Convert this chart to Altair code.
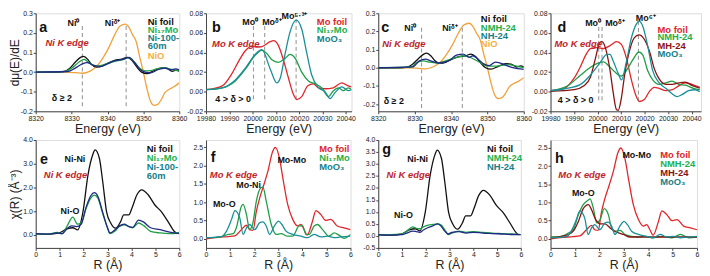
import altair as alt
import pandas as pd

FONT = "Liberation Sans"

# ---------------- data: Ni K-edge XANES derivative (panels a, c) ----------------
ni_foil_xan_e = [8320, 8326, 8328, 8329.5, 8331, 8332.5, 8333.3, 8334.5, 8335.5, 8337, 8338.5, 8340, 8342, 8344,
                 8345.5, 8346.8, 8348, 8349.5, 8351, 8353, 8355, 8356.5, 8358, 8359.2, 8360]
ni_foil_xan = [0, 0, 0.004, 0.02, 0.05, 0.075, 0.08, 0.065, 0.04, 0.025, 0.03, 0.045, 0.06, 0.066,
               0.075, 0.06, 0.03, 0.0, -0.008, 0.008, 0.022, 0.02, 0.004, 0.01, 0.004]
nio_xan_e = [8320, 8328, 8331, 8333, 8334.5, 8336, 8337.5, 8339, 8340.5, 8342, 8343.5, 8345, 8346, 8347,
             8348, 8349, 8350, 8351, 8352, 8353, 8354, 8355, 8356, 8357, 8358.5, 8360]
nio_xan = [0, 0, -0.003, -0.006, 0, 0.015, 0.04, 0.08, 0.13, 0.19, 0.235, 0.245, 0.228, 0.19,
           0.155, 0.075, 0.0, -0.085, -0.15, -0.17, -0.165, -0.14, -0.105, -0.09, -0.075, -0.055]
ni17mo_xan_e = [8320, 8328, 8330, 8332, 8333.5, 8335, 8337, 8339, 8341, 8343, 8345, 8346, 8347.5, 8349,
                8350.5, 8352, 8354, 8356, 8358, 8360]
ni17mo_xan = [0, 0.003, 0.02, 0.05, 0.065, 0.045, 0.03, 0.038, 0.05, 0.058, 0.068, 0.074, 0.05, 0.02,
              0.006, 0.008, 0.018, 0.022, 0.012, 0.005]
ni100_xan_e = [8320, 8329, 8331, 8333, 8334.3, 8336, 8338, 8340, 8342, 8344, 8346, 8347.5, 8349, 8350.5,
               8352, 8354, 8356, 8357.5, 8359, 8360]
ni100_xan = [0, 0.003, 0.02, 0.042, 0.048, 0.035, 0.028, 0.042, 0.058, 0.064, 0.075, 0.05, 0.015, 0.0,
             -0.004, 0.012, 0.02, 0.012, 0.016, 0.012]
nmh_ni_xan_e = [8320, 8329, 8330.4, 8332.4, 8334, 8336, 8339.3, 8342, 8343.7, 8345.5, 8348.2, 8350, 8352.6,
                8355.3, 8358, 8360]
nmh_ni_xan = [0, 0.004, 0.026, 0.038, 0.031, 0.026, 0.043, 0.06, 0.066, 0.055, 0.026, 0.009, 0.009,
              0.017, 0.009, 0.0]
nh_xan_e = [8320, 8329.5, 8331.3, 8333, 8334.4, 8336.6, 8339.3, 8341.5, 8343.3, 8345, 8346, 8347.7, 8349,
            8350.5, 8352.2, 8353.5, 8355.3, 8357, 8360]
nh_xan = [0, 0.005, 0.038, 0.048, 0.038, 0.026, 0.038, 0.069, 0.075, 0.057, 0.066, 0.043, 0.021,
          0.012, 0.031, 0.026, 0.012, 0.0, -0.009]

# ---------------- data: Mo K-edge XANES derivative (panel b) ----------------
mo_foil_b_e = [19980, 19987, 19991, 19994, 19997, 19999.7, 20001.9, 20004, 20007.6, 20009, 20010.9, 20013.3,
               20015.4, 20017.6, 20019, 20021.1, 20023.7, 20026.1, 20028.3, 20031.1, 20034.7, 20038.3, 20041.1, 20042.5]
mo_foil_b = [0.002, 0.006, 0.018, 0.031, 0.042, 0.0465, 0.0455, 0.046, 0.051, 0.052, 0.048, 0.032,
             0.014, -0.003, -0.008, -0.005, 0.006, 0.008, 0.004, 0.003, 0.004, 0.009, 0.006, 0.005]
ni17mo_b_e = [19980, 19987, 19992.6, 19996.9, 20001.1, 20004, 20006.1, 20008.3, 20011.1, 20014, 20016.1,
              20018.3, 20021.1, 20024, 20026.9, 20029.7, 20032.6, 20034.7, 20036.9, 20039, 20041.1, 20042.5]
ni17mo_b = [0.002, 0.004, 0.011, 0.023, 0.037, 0.0425, 0.039, 0.0325, 0.030, 0.034, 0.038,
            0.034, 0.02, 0.011, 0.008, 0.004, -0.005, 0.001, 0.004, 0.001, 0.004, 0.002]
moo3_b_e = [19980, 19987, 19992.6, 19996.9, 20001.1, 20004, 20007.6, 20010.4, 20011.9, 20014, 20016.1,
            20018.7, 20021.1, 20023.3, 20025.4, 20028.3, 20031.1, 20033.3, 20035.4, 20038.3, 20041.1, 20042.5]
moo3_b = [0.002, 0.004, 0.012, 0.024, 0.038, 0.043, 0.023, 0.009, 0.014, 0.039, 0.061,
          0.073, 0.064, 0.039, 0.017, 0.004, 0.0, -0.007, -0.001, 0.005, 0.001, 0.002]

# ---------------- data: Mo K-edge XANES derivative (panel d) ----------------
mo_foil_d_e = [19980, 19985.9, 19990.1, 19992.8, 19994.9, 19997, 19999.8, 20002.6, 20005.3, 20008.1, 20010.2,
               20012.3, 20014.4, 20016.5, 20017.8, 20019.9, 20022, 20024.1, 20026.2, 20029, 20031.8, 20034.5,
               20037.3, 20040.1, 20043.5]
mo_foil_d = [0.001, 0.0035, 0.014, 0.026, 0.037, 0.044, 0.045, 0.044, 0.047, 0.051, 0.048,
             0.034, 0.012, -0.005, -0.01, -0.008, 0.0, 0.0045, 0.0035, 0.001, 0.002, 0.006,
             0.009, 0.0075, 0.0045]
mh_d_e = [19980, 19990.1, 19994.2, 19997, 19999.1, 20000.9, 20001.9, 20003.3, 20005.3, 20006.6, 20008,
          20008.8, 20010.1, 20011.5, 20013.5, 20015.6, 20017.6, 20020, 20022.1, 20024.2, 20026.2, 20029,
          20031.7, 20034.5, 20037.3, 20040.1, 20043.5]
mh_d = [0.0003, 0.002, 0.006, 0.015, 0.034, 0.05, 0.051, 0.045, 0.022, 0.0, -0.018,
        -0.019, -0.007, 0.017, 0.041, 0.055, 0.058, 0.053, 0.041, 0.023, 0.013, 0.0075,
        0.0075, 0.009, 0.0098, 0.0065, 0.0035]
moo3_d_e = [19980, 19986, 19992.8, 19997, 20001.2, 20004, 20005.3, 20006.7, 20008.8, 20010.2, 20012.3,
            20014.4, 20016.5, 20017.6, 20019.2, 20021.3, 20023.4, 20026.2, 20029, 20031.7, 20033.8,
            20035.9, 20038.7, 20041.5, 20043.5]
moo3_d = [0.001, 0.003, 0.0075, 0.017, 0.03, 0.038, 0.038, 0.031, 0.0185, 0.012, 0.031,
          0.055, 0.069, 0.072, 0.067, 0.047, 0.022, 0.009, 0.0035, -0.002, -0.005,
          -0.003, 0.001, 0.002, 0.0]
nmh_mo_d_e = [19980, 19987.3, 19992.8, 19997, 20000.5, 20002.6, 20004.7, 20007.4, 20010.2, 20012.3, 20015.1,
              20017.6, 20019.2, 20021.3, 20023.4, 20026.2, 20029, 20031.7, 20034.5, 20037.3, 20040.8, 20043.5]
nmh_mo_d = [0.001, 0.006, 0.017, 0.025, 0.0295, 0.0305, 0.0265, 0.02, 0.016, 0.0217, 0.033,
            0.0405, 0.0375, 0.0217, 0.0123, 0.0075, 0.009, 0.0107, 0.0075, 0.0066, 0.0035, 0.002]

# ---------------- data: Ni K-edge EXAFS (panels e, g) ----------------
ni_foil_r = [0, 0.5, 0.95, 1.3, 1.55, 1.75, 1.98, 2.18, 2.39, 2.48, 2.66, 2.8, 2.96, 3.14, 3.34, 3.55,
             3.68, 3.89, 4.02, 4.23, 4.43, 4.7, 4.98, 5.25, 5.53, 5.8, 5.9]
ni_foil_ft = [0.04, 0.03, 0.07, 0.25, 0.3, 0.21, 1.0, 2.5, 3.4, 3.58, 3.23, 2.25, 0.98, 0.49, 0.28, 0.56,
              0.84, 0.84, 1.12, 1.69, 1.9, 1.69, 1.26, 0.98, 0.56, 0.14, 0.05]
ni17mo_ni_r = [0, 0.5, 0.9, 1.1, 1.3, 1.55, 1.75, 1.9, 2.1, 2.3, 2.45, 2.6, 2.8, 3.0, 3.1, 3.3, 3.5, 3.7,
               3.9, 4.05, 4.3, 4.5, 4.8, 5.2, 5.6, 6.0]
ni17mo_ni_ft = [0.05, 0.03, 0.1, 0.05, 0.35, 0.75, 0.45, 0.5, 1.1, 1.55, 1.68, 1.55, 0.9, 0.3, 0.05, 0.15,
                0.35, 0.42, 0.35, 0.3, 0.5, 0.4, 0.15, 0.08, 0.05, 0.1]
ni100_r = [0, 0.5, 0.9, 1.1, 1.3, 1.5, 1.7, 1.9, 2.1, 2.3, 2.45, 2.6, 2.8, 3.0, 3.1, 3.3, 3.5, 3.7,
           3.9, 4.05, 4.3, 4.5, 4.8, 5.2, 5.6, 6.0]
ni100_ft = [0.05, 0.03, 0.08, 0.05, 0.25, 0.38, 0.35, 0.45, 1.15, 1.65, 1.78, 1.62, 0.95, 0.3, 0.08, 0.2,
            0.38, 0.45, 0.35, 0.32, 0.62, 0.55, 0.3, 0.22, 0.12, 0.05]
nmh_ni_r = [0, 0.5, 1.0, 1.2, 1.45, 1.6, 1.75, 1.9, 2.1, 2.3, 2.5, 2.65, 2.8, 2.95, 3.1, 3.4, 3.7, 4.0,
            4.4, 4.8, 5.2, 5.6, 6.0]
nmh_ni_ft = [0.05, 0.05, 0.08, 0.2, 0.38, 0.32, 0.3, 0.38, 0.45, 0.48, 0.5, 0.45, 0.25, 0.05, 0.12, 0.2,
             0.15, 0.18, 0.15, 0.12, 0.1, 0.08, 0.05]
nh_r = [0, 0.5, 1.0, 1.2, 1.45, 1.6, 1.75, 1.9, 2.1, 2.3, 2.5, 2.65, 2.8, 2.95, 3.1, 3.4, 3.7, 4.0,
        4.4, 4.8, 5.2, 5.6, 6.0]
nh_ft = [0.05, 0.03, 0.05, 0.12, 0.2, 0.18, 0.15, 0.25, 0.35, 0.42, 0.5, 0.4, 0.2, 0.08, 0.15, 0.18,
         0.12, 0.15, 0.12, 0.1, 0.08, 0.06, 0.05]

# ---------------- data: Mo K-edge EXAFS (panels f, h) ----------------
mo_foil_r = [0, 0.5, 0.92, 1.2, 1.47, 1.68, 1.81, 1.95, 2.09, 2.23, 2.36, 2.57, 2.77, 2.88, 3.05, 3.19,
             3.39, 3.6, 3.8, 3.94, 4.07, 4.2, 4.42, 4.56, 4.77, 4.97, 5.18, 5.45, 5.73, 6.0]
mo_foil_ft = [0.0, 0.04, 0.06, 0.08, 0.25, 0.37, 0.25, 0.23, 0.75, 1.12, 1.39, 1.85, 2.39, 2.5, 2.2, 1.66,
              0.94, 0.53, 0.35, 0.39, 0.25, 0.1, 0.48, 0.77, 0.66, 0.5, 0.53, 0.35, 0.3, 0.25]
ni17mo_mo_r = [0, 0.65, 0.92, 1.13, 1.26, 1.47, 1.54, 1.68, 1.81, 1.95, 2.09, 2.27, 2.36, 2.5, 2.71, 2.91,
               3.12, 3.39, 3.6, 3.87, 4.01, 4.15, 4.29, 4.49, 4.63, 4.84, 5.11, 5.32, 5.52, 5.73, 6.0]
ni17mo_mo_ft = [0.03, 0.06, 0.12, 0.14, 0.3, 0.89, 0.94, 0.66, 0.25, 0.44, 1.03, 1.39, 1.41, 1.03, 0.39, 0.12,
                0.14, 0.07, 0.07, 0.35, 0.35, 0.12, 0.12, 0.35, 0.39, 0.25, 0.07, 0.16, 0.1, 0.01, 0.12]
moo3_r = [0, 0.65, 0.85, 1.06, 1.2, 1.4, 1.54, 1.68, 1.81, 2.02, 2.23, 2.36, 2.5, 2.64, 2.84, 3.01, 3.15,
          3.32, 3.6, 3.94, 4.22, 4.49, 4.77, 5.04, 5.32, 5.6, 6.0]
moo3_ft = [0.03, 0.06, 0.21, 0.53, 0.77, 0.57, 0.12, 0.3, 0.39, 0.25, 0.44, 0.46, 0.35, 0.12, 0.35, 0.48, 0.39,
           0.21, 0.12, 0.07, 0.03, 0.12, 0.05, 0.07, 0.03, 0.05, 0.07]
nmh_mo_r = [0, 0.45, 0.73, 0.93, 1.14, 1.34, 1.55, 1.62, 1.75, 1.89, 2.03, 2.2, 2.37, 2.5, 2.67, 2.85, 3.05,
            3.33, 3.6, 3.88, 4.15, 4.56, 4.97, 5.32, 5.66, 6.0]
nmh_mo_ft = [0.05, 0.07, 0.16, 0.25, 0.66, 0.94, 1.07, 1.1, 0.85, 0.44, 0.53, 0.83, 0.66, 0.3, 0.21, 0.23, 0.12,
             0.07, 0.05, 0.07, 0.03, 0.07, 0.03, 0.12, 0.03, 0.05]
mh_r = [0, 0.45, 0.73, 0.93, 1.14, 1.34, 1.55, 1.68, 1.82, 2.03, 2.23, 2.44, 2.62, 2.81, 2.99, 3.26, 3.6,
        4.29, 4.97, 5.66, 6.0]
mh_ft = [0.03, 0.07, 0.12, 0.21, 0.48, 0.83, 0.94, 0.8, 0.57, 0.41, 0.41, 0.3, 0.21, 0.16, 0.12, 0.05, 0.05,
         0.05, 0.05, 0.05, 0.05]

# ---------------- colours ----------------
BLACK = "#111111"
GREEN = "#1f9e45"
NAVY = "#1f2a86"
TEAL = "#1a8f98"
RED = "#e0262a"
DRED = "#8a1212"
ORANGE = "#f0a23a"
T_GREEN = "#22b04b"
T_TEAL = "#17808a"
T_ORANGE = "#f5b040"
KEDGE = "#c0242a"

LABEL_SIZE = 7
HYPHEN = "replace(datum.label, '\u2212', '-')"


def scale(dom):
    return alt.Scale(domain=dom, nice=False, zero=False)


def build_panel(curves, xdom, ydom, xticks, yticks, xfmt, yfmt, xtitle, ytitle, w, h,
                rules, letter, legend, kedge, peaks, note):
    xs, ys = scale(xdom), scale(ydom)
    xax = alt.Axis(values=xticks, format=xfmt, title=xtitle, grid=False, labelFontSize=LABEL_SIZE,
                   labelOverlap=False, labelFlush=False,
                   titleFontSize=12.5, titleFontWeight="normal", tickSize=2.5, labelPadding=0.5, titlePadding=1,
                   labelFont=FONT, titleFont=FONT, domainColor="#444", tickColor="#444", labelColor="#222",
                   titleColor="#222")
    yax_kw = dict(values=yticks, format=yfmt, grid=False, labelFontSize=LABEL_SIZE, tickSize=2.5, labelPadding=1,
                  labelOverlap=False, labelFlush=False, labelExpr=HYPHEN,
                  labelFont=FONT, domainColor="#444", tickColor="#444", labelColor="#222")
    if ytitle:
        yax = alt.Axis(title=ytitle, titleFontSize=12, titleFontWeight="normal", titleFont=FONT,
                       titleColor="#222", titleX=-14, titleY=h / 2, **yax_kw)
    else:
        yax = alt.Axis(title=None, **yax_kw)
    X = lambda: alt.X("x:Q", scale=xs, axis=xax)
    Y = lambda: alt.Y("y:Q", scale=ys, axis=yax)

    rows = []
    for name, cx, cy, col in curves:
        for a, b in zip(cx, cy):
            rows.append({"s": name, "x": a, "y": b, "c": col})
    lines = alt.Chart(pd.DataFrame(rows)).mark_line(interpolate="monotone", strokeWidth=1.3, clip=True).encode(
        x=X(), y=Y(), detail="s:N", color=alt.Color("c:N", scale=None))

    layers = []
    if rules:
        rdf = pd.DataFrame(rules, columns=["x", "y", "y2"])
        layers.append(alt.Chart(rdf).mark_rule(strokeDash=[4, 3], color="#9a9a9a", strokeWidth=1.1).encode(
            x=X(), y=Y(), y2="y2:Q"))
    layers.append(lines)

    def txt(items, size, style="normal", align="left", weight="bold"):
        df = pd.DataFrame(items, columns=["x", "y", "t", "c"])
        return alt.Chart(df).mark_text(font=FONT, fontSize=size, fontWeight=weight, fontStyle=style,
                                       align=align, baseline="middle").encode(
            x=X(), y=Y(), text="t:N", color=alt.Color("c:N", scale=None))

    layers.append(txt([letter], 14.5))
    layers.append(txt(legend, 9.5))
    layers.append(txt([kedge], 9.5, style="italic"))
    if peaks:
        layers.append(txt(peaks, 9, align="center"))
    if note:
        layers.append(txt([note], 9))
    return alt.layer(*layers).properties(width=w, height=h)


ni_xdom = [8320, 8360]
ni_xt = [8320, 8330, 8340, 8350, 8360]
mo_xt = [19980, 19990, 20000, 20010, 20020, 20030, 20040]
r_xt = [0, 1, 2, 3, 4, 5, 6]
H1, H2 = 99, 109

pa = build_panel(
    [("NiO", nio_xan_e, nio_xan, ORANGE), ("Ni foil", ni_foil_xan_e, ni_foil_xan, BLACK),
     ("Ni17Mo", ni17mo_xan_e, ni17mo_xan, GREEN), ("Ni-100-60m", ni100_xan_e, ni100_xan, NAVY)],
    ni_xdom, [-0.2, 0.3], ni_xt, [-0.2, -0.1, 0.0, 0.1, 0.2, 0.3], "d", ".1f", "Energy (eV)", "dμ(E)/dE",
    145, H1,
    [(8333.0, 0.235, -0.19), (8345.2, 0.235, -0.19)],
    (8321.0, 0.225, "a", BLACK),
    [(8351.2, 0.256, "Ni foil", BLACK), (8351.2, 0.214, "Ni₁₇Mo", T_GREEN), (8351.2, 0.173, "Ni-100-", T_TEAL),
     (8351.2, 0.131, "60m", T_TEAL), (8351.2, 0.081, "NiO", T_ORANGE)],
    (8322.7, 0.147, "Ni K edge", KEDGE),
    [(8330.5, 0.252, "Ni⁰", BLACK), (8341.4, 0.252, "Niᵟ⁺", BLACK)],
    (8324.5, -0.134, "δ ≥ 2", BLACK))

pb = build_panel(
    [("Mo foil", mo_foil_b_e, mo_foil_b, RED), ("Ni17Mo", ni17mo_b_e, ni17mo_b, GREEN),
     ("MoO3", moo3_b_e, moo3_b, TEAL)],
    [19980, 20042.5], [-0.02, 0.08], mo_xt, [-0.02, 0.0, 0.02, 0.04, 0.06, 0.08], "d", ".2f", "Energy (eV)", None,
    147, H1,
    [(20000.4, 0.067, -0.009), (20005.2, 0.067, -0.009), (20018.7, 0.074, -0.009)],
    (19982.6, 0.065, "b", BLACK),
    [(20027.6, 0.0713, "Mo foil", RED), (20027.6, 0.0626, "Ni₁₇Mo", T_GREEN), (20027.6, 0.0542, "MoO₃", T_TEAL)],
    (19982.6, 0.0486, "Mo K edge", KEDGE),
    [(19999.0, 0.0713, "Mo⁰", BLACK), (20008.3, 0.0713, "Moᵟ⁺", BLACK), (20018.0, 0.0772, "Mo⁵·³⁺", BLACK)],
    (19984.0, -0.0075, "4 > δ > 0", BLACK))

pc = build_panel(
    [("NiO", nio_xan_e, nio_xan, ORANGE), ("Ni foil", ni_foil_xan_e, ni_foil_xan, BLACK),
     ("NMH-24", nmh_ni_xan_e, nmh_ni_xan, GREEN), ("NH-24", nh_xan_e, nh_xan, NAVY)],
    ni_xdom, [-0.24, 0.3], ni_xt, [-0.2, -0.1, 0.0, 0.1, 0.2, 0.3], "d", ".1f", "Energy (eV)", None,
    147, H1,
    [(8331.9, 0.22, -0.23), (8343.1, 0.22, -0.23)],
    (8320.8, 0.216, "c", BLACK),
    [(8348.2, 0.268, "Ni foil", BLACK), (8348.2, 0.221, "NMH-24", T_GREEN), (8348.2, 0.176, "NH-24", T_TEAL),
     (8348.2, 0.13, "NiO", T_ORANGE)],
    (8321.1, 0.13, "Ni K edge", KEDGE),
    [(8328.8, 0.221, "Ni⁰", BLACK), (8339.7, 0.221, "Niᵟ⁺", BLACK)],
    (8321.5, -0.182, "δ ≥ 2", BLACK))

pd_ = build_panel(
    [("Mo foil", mo_foil_d_e, mo_foil_d, RED), ("NMH-24", nmh_mo_d_e, nmh_mo_d, GREEN),
     ("MH-24", mh_d_e, mh_d, DRED), ("MoO3", moo3_d_e, moo3_d, TEAL)],
    [19980, 20044], [-0.02, 0.08], mo_xt, [-0.02, 0.0, 0.02, 0.04, 0.06, 0.08], "d", ".2f", "Energy (eV)", None,
    152, H1,
    [(20000.5, 0.066, -0.01), (20001.9, 0.066, -0.01), (20017.4, 0.072, -0.01)],
    (19983.0, 0.065, "d", BLACK),
    [(20025.5, 0.063, "Mo foil", RED), (20025.5, 0.0553, "NMH-24", T_GREEN), (20025.5, 0.0469, "MH-24", DRED),
     (20025.5, 0.038, "MoO₃", T_TEAL)],
    (19981.7, 0.0484, "Mo K edge", KEDGE),
    [(19998.1, 0.0704, "Mo⁰", BLACK), (20007.4, 0.0704, "Moᵟ⁺", BLACK), (20020.5, 0.0752, "Mo⁶⁺", BLACK)],
    (19983.1, -0.009, "4 > δ > 0", BLACK))

pe = build_panel(
    [("Ni foil", ni_foil_r, ni_foil_ft, BLACK), ("Ni17Mo", ni17mo_ni_r, ni17mo_ni_ft, GREEN),
     ("Ni-100-60m", ni100_r, ni100_ft, NAVY)],
    [0, 6], [-0.55, 4.0], r_xt, [0.0, 1.0, 2.0, 3.0, 4.0], "d", ".1f", "R (Å)", "χ(R) (Å⁻³)",
    145, H2, None,
    (0.18, 3.16, "e", BLACK),
    [(4.64, 3.62, "Ni foil", BLACK), (4.64, 3.23, "Ni₁₇Mo", T_GREEN), (4.64, 2.85, "Ni-100-", T_TEAL),
     (4.64, 2.47, "60m", T_TEAL)],
    (0.34, 2.53, "Ni K edge", KEDGE),
    [(1.64, 3.2, "Ni-Ni", BLACK), (1.43, 1.01, "Ni-O", BLACK)],
    None)

pf = build_panel(
    [("Mo foil", mo_foil_r, mo_foil_ft, RED), ("Ni17Mo", ni17mo_mo_r, ni17mo_mo_ft, GREEN),
     ("MoO3", moo3_r, moo3_ft, TEAL)],
    [0, 6], [-0.25, 2.7], r_xt, [0.0, 0.5, 1.0, 1.5, 2.0, 2.5], "d", ".1f", "R (Å)", None,
    146, H2, None,
    (0.2, 2.21, "f", BLACK),
    [(4.7, 2.46, "Mo foil", RED), (4.7, 2.21, "Ni₁₇Mo", T_GREEN), (4.7, 1.96, "MoO₃", T_TEAL)],
    (0.16, 1.75, "Mo K edge", KEDGE),
    [(3.56, 2.16, "Mo-Mo", BLACK), (1.77, 1.48, "Mo-Ni", BLACK), (0.76, 0.94, "Mo-O", BLACK)],
    None)

pg = build_panel(
    [("Ni foil", ni_foil_r, ni_foil_ft, BLACK), ("NMH-24", nmh_ni_r, nmh_ni_ft, GREEN),
     ("NH-24", nh_r, nh_ft, NAVY)],
    [0, 6], [-0.5, 4.0], r_xt, [-0.5, 0.0, 0.5, 1.0, 1.5, 2.0, 2.5, 3.0, 3.5, 4.0], "d", ".1f", "R (Å)", None,
    144, H2, None,
    (0.17, 3.58, "g", BLACK),
    [(4.58, 3.62, "Ni foil", BLACK), (4.58, 3.23, "NMH-24", T_GREEN), (4.58, 2.86, "NH-24", T_TEAL)],
    (0.35, 2.53, "Ni K edge", KEDGE),
    [(1.66, 3.2, "Ni-Ni", BLACK), (1.06, 0.86, "Ni-O", BLACK)],
    None)

ph = build_panel(
    [("Mo foil", mo_foil_r, mo_foil_ft, RED), ("NMH-24", nmh_mo_r, nmh_mo_ft, GREEN),
     ("MH-24", mh_r, mh_ft, DRED), ("MoO3", moo3_r, moo3_ft, TEAL)],
    [0, 6], [-0.25, 2.72], r_xt, [0.0, 0.5, 1.0, 1.5, 2.0, 2.5], "d", ".1f", "R (Å)", None,
    148, H2, None,
    (0.18, 2.19, "h", BLACK),
    [(4.49, 2.3, "Mo foil", RED), (4.49, 2.05, "NMH-24", T_GREEN), (4.49, 1.82, "MH-24", DRED),
     (4.49, 1.57, "MoO₃", T_TEAL)],
    (0.32, 1.75, "Mo K edge", KEDGE),
    [(3.53, 2.3, "Mo-Mo", BLACK), (1.34, 1.25, "Mo-O", BLACK)],
    None)

chart = alt.concat(pa, pb, pc, pd_, pe, pf, pg, ph, columns=4, bounds="flush",
                   spacing={"row": 29, "column": 27}).properties(
    padding={"left": 0, "top": -1, "right": 0, "bottom": 0}
).configure_view(stroke="#444", strokeWidth=1).configure(background="white")

chart.save("out.html", embed_options={"renderer": "svg", "actions": False})
